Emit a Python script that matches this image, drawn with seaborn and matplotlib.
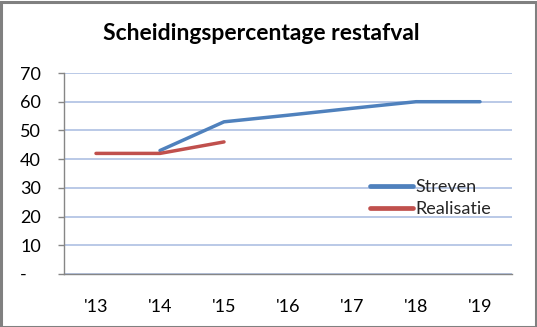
import numpy as np
import pandas as pd
import seaborn as sns
import matplotlib.pyplot as plt
from matplotlib.patches import Rectangle

# Data
years = ["'13", "'14", "'15", "'16", "'17", "'18", "'19"]
streven = [np.nan, 43, 53, 55.3, 57.7, 60, 60]
realisatie = [42, 42, 46, np.nan, np.nan, np.nan, np.nan]
series_names = ["Streven", "Realisatie"]
series_colors = ["#4F81BD", "#C0504D"]
y_ticks = [0, 10, 20, 30, 40, 50, 60, 70]
y_tick_labels = ["-   ", "10", "20", "30", "40", "50", "60", "70"]

df = pd.DataFrame({
    "jaar": years * 2,
    "pos": list(range(len(years))) * 2,
    "waarde": streven + realisatie,
    "reeks": [series_names[0]] * len(years) + [series_names[1]] * len(years),
})

sns.set_theme(style="white")
plt.rcParams["font.family"] = ["Lato", "DejaVu Sans"]

W, H = 537, 327
fig = plt.figure(figsize=(W / 100, H / 100), dpi=100)
ax = fig.add_axes([64 / W, 1 - 274 / H, 448 / W, 201 / H])

sns.lineplot(data=df, x="pos", y="waarde", hue="reeks", hue_order=series_names,
             palette=series_colors, linewidth=2.5, ax=ax, legend=True,
             estimator=None, sort=False)
for ln in ax.get_lines():
    ln.set_solid_capstyle("round")

ax.set_xlim(-0.5, len(years) - 0.5)
ax.set_ylim(0, 70)
ax.set_xticks(range(len(years)))
ax.set_xticklabels(years)
ax.set_yticks(y_ticks)
ax.set_yticklabels(y_tick_labels)
ax.set_xlabel("")
ax.set_ylabel("")

ax.grid(axis="y", color="#A7BBE0", linewidth=1.1)
ax.grid(axis="x", visible=False)
ax.set_axisbelow(True)

for side in ["top", "right"]:
    ax.spines[side].set_visible(False)
for side in ["left", "bottom"]:
    ax.spines[side].set_color("#868686")
    ax.spines[side].set_linewidth(1.0)

ax.tick_params(axis="y", which="both", left=True, length=4.5, width=1.0,
               color="#868686", direction="out", pad=12, labelsize=13,
               labelcolor="#000000")
ax.tick_params(axis="x", bottom=False, pad=12, labelsize=13, labelcolor="#000000")

leg = ax.legend(loc="upper left", bbox_to_anchor=(306 / 448, 1 - 106 / 201),
                frameon=False, fontsize=13, handlelength=2.4,
                handletextpad=0.1, labelspacing=0.36, borderaxespad=0,
                borderpad=0)
for h in leg.get_lines():
    h.set_linewidth(3.4)
    h.set_solid_capstyle("round")

fig.text(261 / W, 1 - 33 / H, "Scheidingspercentage restafval",
         ha="center", va="center", fontsize=16.5, fontweight="bold", color="#000000")

fig.patches.append(Rectangle((0.5 / W, 0.5 / H), 1 - 2 / W, 1 - 2 / H,
                             transform=fig.transFigure, fill=False,
                             edgecolor="#808080", linewidth=2.2))

fig.savefig("out.png", dpi=100, facecolor="white")
